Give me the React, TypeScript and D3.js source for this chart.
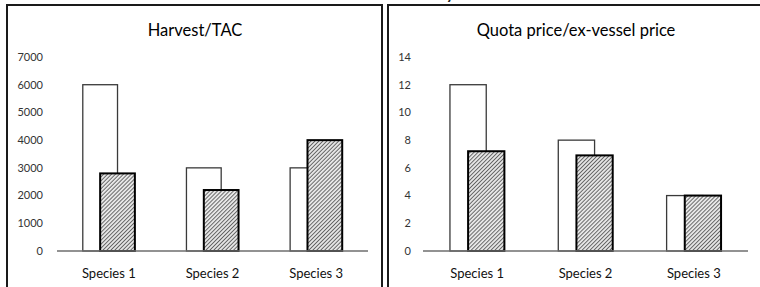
import { useEffect, useRef } from "react";
import * as d3 from "d3";

// chart data
const species = ["Species 1", "Species 2", "Species 3"];
const harvestWhite = [6000, 3000, 3000];
const harvestHatched = [2800, 2200, 4000];
const harvestTicks = [0, 1000, 2000, 3000, 4000, 5000, 6000, 7000];
const priceWhite = [12, 8, 4];
const priceHatched = [7.2, 6.9, 4];
const priceTicks = [0, 2, 4, 6, 8, 10, 12, 14];
const titles = ["Harvest/TAC", "Quota price/ex-vessel price"];

const W = 760;
const H = 287;
const font = "Lato, 'Open Sans', sans-serif";

const panels = [
  { title: titles[0], white: harvestWhite, hatched: harvestHatched, ticks: harvestTicks, max: 7000,
    box: [7, 5, 375], axis: [57, 368], labelX: 43, titleX: 195 },
  { title: titles[1], white: priceWhite, hatched: priceHatched, ticks: priceTicks, max: 14,
    box: [388, 5, 380], axis: [423, 748], labelX: 411, titleX: 576 },
];

const App = () => {
  const ref = useRef<SVGSVGElement>(null);

  useEffect(() => {
    const svg = d3.select(ref.current);
    svg.selectAll("*").remove();

    // diagonal hatch
    const defs = svg.append("defs");
    const pat = defs.append("pattern")
      .attr("id", "hatch")
      .attr("patternUnits", "userSpaceOnUse")
      .attr("width", 2.8)
      .attr("height", 2.8)
      .attr("patternTransform", "rotate(45)");
    pat.append("rect").attr("width", 2.8).attr("height", 2.8).attr("fill", "#e6e6e6");
    pat.append("line")
      .attr("x1", 0).attr("y1", 0).attr("x2", 0).attr("y2", 2.8)
      .attr("stroke", "#2a2a2a").attr("stroke-width", 1.3);

    // clipped caption fragment at the very top
    svg.append("text")
      .attr("x", 446).attr("y", -1)
      .attr("font-family", font).attr("font-size", 16).attr("font-weight", "bold")
      .attr("fill", "#222")
      .text("y");

    panels.forEach((p) => {
      const g = svg.append("g");

      // panel frame (runs off the bottom)
      g.append("rect")
        .attr("x", p.box[0]).attr("y", p.box[1])
        .attr("width", p.box[2]).attr("height", 320)
        .attr("fill", "white").attr("stroke", "#1a1a1a").attr("stroke-width", 2);

      const y = d3.scaleLinear().domain([0, p.max]).range([251, 57]);
      const x = d3.scaleBand().domain(species).range(p.axis as [number, number]).padding(0);
      const bw = x.bandwidth() * 0.335;

      g.append("text")
        .attr("x", p.titleX).attr("y", 36)
        .attr("text-anchor", "middle")
        .attr("font-family", font).attr("font-size", 16.5)
        .attr("fill", "#000")
        .text(p.title);

      g.selectAll(".tick")
        .data(p.ticks)
        .join("text")
        .attr("x", p.labelX)
        .attr("y", (d) => y(d))
        .attr("dy", "0.35em")
        .attr("text-anchor", "end")
        .attr("font-family", font).attr("font-size", 11)
        .attr("fill", "#333")
        .text((d) => d);

      // white series
      g.selectAll(".white")
        .data(p.white)
        .join("rect")
        .attr("x", (d, i) => x(species[i])! + x.bandwidth() / 2 - bw * 0.75)
        .attr("y", (d) => y(d))
        .attr("width", bw)
        .attr("height", (d) => y(0) - y(d))
        .attr("fill", "white")
        .attr("stroke", "#3a3a3a")
        .attr("stroke-width", 1.3);

      // hatched series, overlapping by half
      g.selectAll(".hatched")
        .data(p.hatched)
        .join("rect")
        .attr("x", (d, i) => x(species[i])! + x.bandwidth() / 2 - bw * 0.25)
        .attr("y", (d) => y(d))
        .attr("width", bw)
        .attr("height", (d) => y(0) - y(d))
        .attr("fill", "url(#hatch)")
        .attr("stroke", "#000")
        .attr("stroke-width", 2);

      g.append("line")
        .attr("x1", p.axis[0]).attr("x2", p.axis[1])
        .attr("y1", y(0)).attr("y2", y(0))
        .attr("stroke", "#6e6e6e").attr("stroke-width", 1.5);

      g.selectAll(".cat")
        .data(species)
        .join("text")
        .attr("x", (d) => x(d)! + x.bandwidth() / 2)
        .attr("y", 278)
        .attr("text-anchor", "middle")
        .attr("font-family", font).attr("font-size", 13)
        .attr("fill", "#111")
        .text((d) => d);
    });
  }, []);

  return (
    <svg ref={ref} width={W} height={H} viewBox={`0 0 ${W} ${H}`}
      style={{ position: "absolute", left: 0, top: 0, background: "white" }} />
  );
};

export default App;
